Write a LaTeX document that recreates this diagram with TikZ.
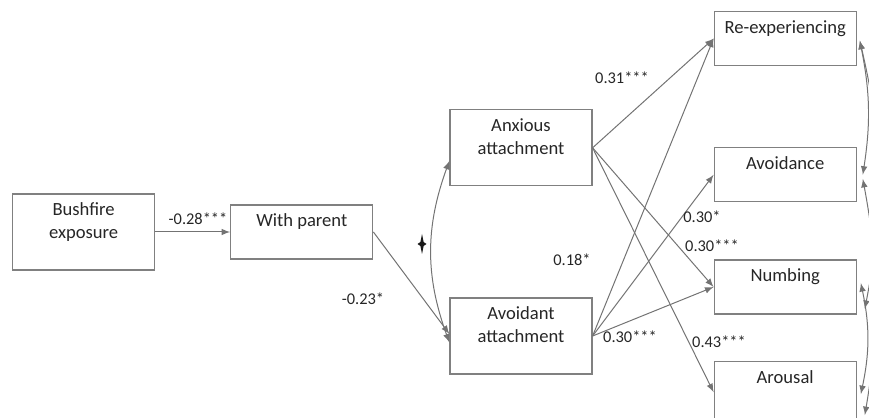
\documentclass[tikz,border=0pt]{standalone}
\usepackage{fontspec}
\setmainfont{Carlito}
\usetikzlibrary{positioning, calc}

\begin{document}
\begin{tikzpicture}[
            x=0.5pt, y=0.5pt,
            node distance=20pt and 20pt,
            varbox/.style = {align=center, inner sep=0pt, draw=black!50, line width=0.6pt,
                    minimum width=71pt, text height=11pt, text depth=16pt, text=black!85,
                    font=\fontsize{9.3}{11.5}\selectfont},
            tallbox/.style = {varbox, text height=22.5pt, text depth=15.5pt},
            coef/.style = {inner sep=0pt, text=black!85, font=\fontsize{8.2}{10}\selectfont},
            arr/.style = {->, >=latex, draw=black!55, line width=0.5pt},
            cov/.style = {<->, >=latex, draw=black!55, line width=0.5pt}
        ]
        \useasboundingbox (0,0) rectangle (869,418);

        \node (bush)      [tallbox, anchor=west] at (12,186) {Bushfire\\exposure};
        \node (parent)    [varbox, right = 37.5pt of bush] {With parent};
        \node (anx)       [tallbox, above right = 9pt and 38pt of parent] {Anxious\\attachment};
        \node (avoid)     [tallbox, below = 55.5pt of anx] {Avoidant\\attachment};
        \node (reexp)     [varbox, above right = 21.5pt and 60.5pt of anx] {Re-experiencing};
        \node (avoidance) [varbox, below = 40.5pt of reexp] {Avoidance};
        \node (numb)      [varbox, below = 28.5pt of avoidance] {Numbing};
        \node (arousal)   [varbox, text depth=20pt, below = 23pt of numb] {Arousal};

        \draw[arr] (bush.east)   -- (parent.west);
        \draw[arr] (parent.east) -- ([yshift=1pt]avoid.west);
        \draw[cov] ([yshift=-6.5pt]anx.west) to[bend right=20] ([yshift=-3.25pt]avoid.west);
        \draw[arr] (anx.east)    -- (reexp.west);
        \draw[arr] (anx.east)    -- (numb.west);
        \draw[arr] (anx.east)    -- (arousal.west);
        \draw[arr] (avoid.east)  -- (reexp.west);
        \draw[arr] (avoid.east)  -- (avoidance.west);
        \draw[arr] (avoid.east)  -- (numb.west);

        \draw[cov] ([shift={(1.5pt,-1pt)}]reexp.east) to[bend left=10] ([shift={(3pt,0pt)}]avoidance.east);
        \draw[cov] ([shift={(1.5pt,-1pt)}]reexp.east) to[bend left=12] ([shift={(4pt,-11pt)}]numb.east);
        \draw[cov] ([shift={(3pt,-2pt)}]avoidance.east) to[bend left=10] ([shift={(4pt,-11.5pt)}]arousal.east);
        \draw[cov] ([shift={(2pt,2pt)}]numb.east) to[bend left=12] ([shift={(2pt,-1pt)}]arousal.east);

        % star on the attachment covariance
        \fill[black!90] (422,184) -- (423.6,176) -- (426.5,174) -- (423.6,172) -- (422,164)
            -- (420.4,172) -- (417.5,174) -- (420.4,176) -- cycle;

        \node (c1) [coef] at (198,199) {-0.28***};
        \node (c2) [coef] at (363,119) {-0.23*};
        \node (c3) [coef] at (622,340) {0.31***};
        \node (c4) [coef] at (572,158) {0.18*};
        \node (c5) [coef] at (630,81)  {0.30***};
        \node (c6) [coef] at (702,201) {0.30*};
        \node (c7) [coef] at (712,172) {0.30***};
        \node (c8) [coef] at (719,76)  {0.43***};
\end{tikzpicture}
\end{document}
